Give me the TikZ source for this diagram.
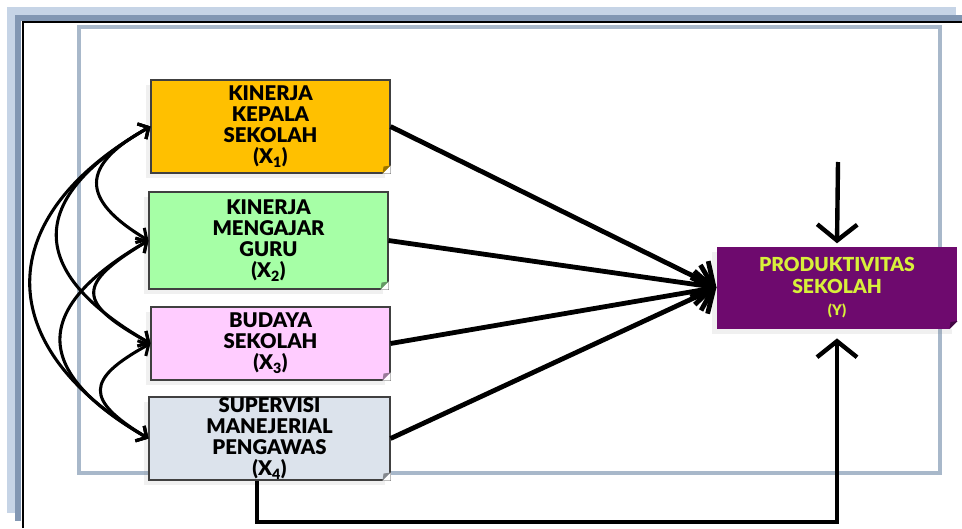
\documentclass[tikz,border=0pt]{standalone}
\usepackage{fontspec}
\setmainfont{Lato}[BoldFont={Lato Black}]
\usetikzlibrary{arrows.meta, calc, shadows}
\definecolor{bandlight}{HTML}{C6D4E6}
\definecolor{banddark}{HTML}{8297B3}
\definecolor{framegray}{HTML}{A8B8CA}
\definecolor{kepala}{HTML}{FFC000}
\definecolor{guru}{HTML}{A6FFA6}
\definecolor{budaya}{HTML}{FFCCFF}
\definecolor{pengawas}{HTML}{DCE3EC}
\definecolor{produk}{HTML}{6E0A6E}
\definecolor{produktxt}{HTML}{D8F03A}

\tikzset{
  varbox/.style={draw=black!75, line width=0.8pt, inner sep=0pt, align=center,
    font=\bfseries\fontsize{15.2}{15.75}\selectfont,
    drop shadow={shadow xshift=-4pt, shadow yshift=-4pt, opacity=0.12}},
  corr/.style={{Straight Barb[length=6pt,width=13pt]}-{Straight Barb[length=6pt,width=13pt]},
    line width=2.3pt, bend right=60, looseness=1.8},
  effect/.style={line width=3.6pt, -{Straight Barb[length=12pt,width=30pt]}},
}
% small folded corner at the lower right of a box
\newcommand{\fold}[2]{%
  \fill[white] ($(#1.south east)+(-8,0)$) -- ($(#1.south east)+(0,-8)$) -- (#1.south east) -- cycle;
  \fill[#2] ($(#1.south east)+(-8,0)$) -- ($(#1.south east)+(0,-8)$) -- ($(#1.south east)+(-7,-7)$) -- cycle;
}

\begin{document}
\begin{tikzpicture}[x=0.75pt, y=-0.75pt]
	\useasboundingbox (0,0) rectangle (962,528);

	% page border
	\fill[bandlight] (7,7) rectangle (956,15);
	\fill[bandlight] (7,7) rectangle (15,513);
	\fill[banddark] (15,15) rectangle (962,21);
	\fill[banddark] (15,15) rectangle (21,521);
	\draw[line width=1.8pt] (23,528) -- (23,22) -- (962,22);
	\draw[framegray, line width=3pt] (79,27) rectangle (940,473);

	\coordinate (ytop) at (838,162);
	\coordinate (lowrun) at (257,522);

	\node[varbox, fill=kepala, minimum width=179.25pt, minimum height=69.75pt] (X1) at (270.5,126.5)
		{KINERJA\\KEPALA\\SEKOLAH\\(X\textsubscript{1})};
	\node[varbox, fill=guru, minimum width=179.25pt, minimum height=72.75pt] (X2) at (268.5,240.5)
		{KINERJA\\MENGAJAR\\GURU\\(X\textsubscript{2})};
	\node[varbox, fill=budaya, minimum width=179.25pt, minimum height=54.75pt] (X3) at (270.5,343.5)
		{BUDAYA\\SEKOLAH\\(X\textsubscript{3})};
	\node[varbox, fill=pengawas, minimum width=180.75pt, minimum height=62.25pt] (X4) at (269.5,438.5)
		{SUPERVISI\\MANEJERIAL\\PENGAWAS\\(X\textsubscript{4})};
	\node[varbox, draw=none, fill=produk, text=produktxt, minimum width=180pt, minimum height=61.5pt,
		font=\bfseries\fontsize{14.5}{16.5}\selectfont] (Y) at (837,287.5)
		{PRODUKTIVITAS\\SEKOLAH\\{\fontsize{11}{14}\selectfont(Y)}};

	\fold{X1}{kepala!60!black}
	\fold{X2}{guru!60!black}
	\fold{X3}{budaya!60!black}
	\fold{X4}{pengawas!60!black}
	\fold{Y}{produk!60!black}

	\draw[effect] (X1.east) -- (Y.west);
	\draw[effect] (X2.east) -- (Y.west);
	\draw[effect] (X3.east) -- (Y.west);
	\draw[effect] (X4.east) -- (Y.west);

	\draw[effect, line width=3.3pt] (ytop) -- ([yshift=2pt]Y.north);
	\draw[effect, line width=3.3pt] (X4.south -| lowrun) -- (lowrun) -| ([yshift=-7pt]Y.south);

	\draw[corr] (X1.west) to (X2.west);
	\draw[corr, looseness=2.1] (X2.west) to (X3.west);
	\draw[corr, looseness=2] (X3.west) to (X4.west);
	\draw[corr, looseness=1.7] (X1.west) to (X3.west);
	\draw[corr, looseness=1.75] (X2.west) to (X4.west);
	\draw[corr, looseness=1.5] (X1.west) to (X4.west);

\end{tikzpicture}
\end{document}
